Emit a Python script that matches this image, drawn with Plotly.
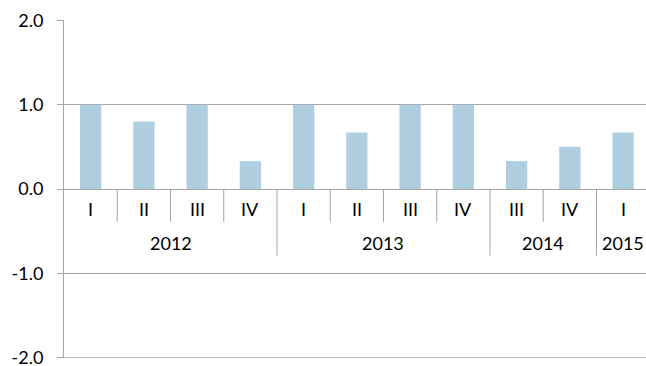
import plotly.graph_objects as go

# Quarterly values grouped by year
years = ["2012", "2012", "2012", "2012", "2013", "2013", "2013", "2013", "2014", "2014", "2015"]
quarters = ["I", "II", "III", "IV", "I", "II", "III", "IV", "III", "IV", "I"]
values = [1.0, 0.8, 1.0, 0.33, 1.0, 0.67, 1.0, 1.0, 0.33, 0.5, 0.67]
y_ticks = [-2.0, -1.0, 0.0, 1.0, 2.0]
y_tick_text = ["-2.0", "-1.0", "0.0", "1.0", "2.0"]

FONT = "Lato"
GRID = "#A6A6A6"
BAR = "#AFCFE1"
FS = 18

n = len(values)
xs = list(range(n))

fig = go.Figure(go.Bar(x=xs, y=values, width=0.4, marker=dict(color=BAR, line=dict(width=0))))

shapes = []
annotations = []

# Gridline along the bottom edge of the plot area
shapes.append(dict(type="line", xref="paper", yref="y", x0=0, x1=1, y0=y_ticks[0], y1=y_ticks[0],
                   line=dict(color=GRID, width=1)))

# Quarter labels and short separators between quarters
for i, q in enumerate(quarters):
    annotations.append(dict(x=i, y=-0.24, xref="x", yref="y", text=q, showarrow=False,
                            font=dict(family=FONT, size=FS, color="#000000")))
for i in range(1, n):
    major = years[i] != years[i - 1]
    shapes.append(dict(type="line", xref="x", yref="y", x0=i - 0.5, x1=i - 0.5,
                       y0=0, y1=-0.79 if major else -0.39,
                       line=dict(color=GRID, width=1)))

# Year labels centred over their quarter groups
groups = []
for i, yv in enumerate(years):
    if groups and groups[-1][0] == yv:
        groups[-1][2] = i
    else:
        groups.append([yv, i, i])
for yv, a, b in groups:
    annotations.append(dict(x=(a + b) / 2, y=-0.64, xref="x", yref="y", text=yv, showarrow=False,
                            font=dict(family=FONT, size=FS, color="#000000")))

fig.update_layout(
    width=646, height=366,
    margin=dict(l=64, r=0, t=20, b=8),
    paper_bgcolor="white", plot_bgcolor="white",
    showlegend=False,
    shapes=shapes, annotations=annotations,
    font=dict(family=FONT, size=FS, color="#000000"),
    xaxis=dict(range=[-0.5, 10.43], showticklabels=False, showgrid=False,
               zeroline=False, showline=False, ticks="", automargin=False),
    yaxis=dict(range=[-2.003, 2.003], tickvals=y_ticks, ticktext=y_tick_text,
               showgrid=True, gridcolor=GRID, gridwidth=1,
               zeroline=True, zerolinecolor=GRID, zerolinewidth=1,
               showline=True, linecolor=GRID, linewidth=1,
               ticks="outside", ticklen=6, tickcolor=GRID,
               ticklabelstandoff=10, ticklabeloverflow="allow", automargin=False,
               tickfont=dict(family=FONT, size=FS, color="#000000")),
)

fig.write_html("out.html")
